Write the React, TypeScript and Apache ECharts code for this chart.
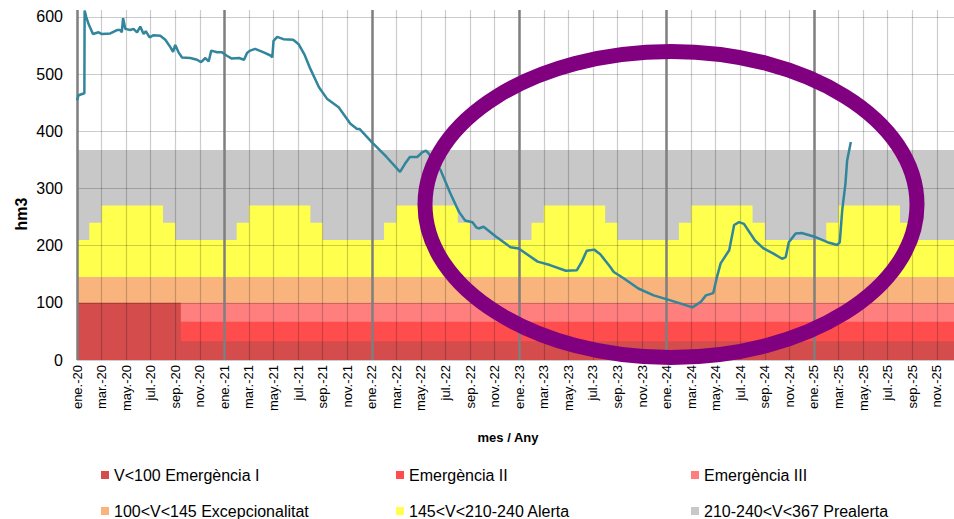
import { useEffect, useRef } from "react";
import * as echarts from "echarts";

// Month names used in the x-axis tick labels (ene.-20, mar.-20, ...)
const monthNames = ["ene.", "feb.", "mar.", "abr.", "may.", "jun.", "jul.", "ago.", "sep.", "oct.", "nov.", "dic."];
const firstYear = 20;

// Reservoir volume (hm3); x = months elapsed since 1 Jan 2020
const levelMonths = [
  0.0, 0.13, 0.54, 0.6, 0.62, 0.75, 0.95, 1.3, 1.76, 2.03, 2.71, 3.26, 3.53, 3.65, 3.75, 3.93, 4.34, 4.6, 4.89, 5.15,
  5.42, 5.6, 5.91, 6.24, 6.78, 7.19, 7.6, 7.82, 8.0, 8.27, 8.55, 9.23, 9.77, 10.1, 10.45, 10.72, 10.93, 11.4, 11.8, 12.2,
  12.6, 13.2, 13.6, 13.84, 14.1, 14.5, 15.2, 15.8, 15.9, 16.0, 16.3, 16.8, 17.6, 18.05, 18.5, 19.0, 19.7, 20.35, 21.3, 22.26,
  22.8, 23.0, 24.0, 25.2, 26.3, 26.7, 27.1, 27.7, 28.1, 28.4, 28.6, 29.6, 30.4, 31.1, 31.6, 32.2, 32.5, 32.7, 33.1, 34.1,
  35.3, 35.96, 37.5, 38.5, 39.8, 40.7, 41.1, 41.5, 42.1, 42.6, 43.4, 43.7, 44.5, 45.7, 46.95, 48.05, 49.1, 50.1, 50.8, 51.2,
  51.8, 52.1, 52.4, 53.1, 53.5, 53.9, 54.3, 55.2, 55.9, 56.7, 57.4, 57.7, 57.95, 58.5, 59.0, 59.98, 61.1, 61.9, 62.1, 62.3,
  62.56, 62.7, 63.0,
];
const levelValues = [
  454, 463, 466, 466, 611, 600, 587, 570, 573, 570, 571, 577, 577, 573, 598, 579, 577, 579, 573, 583,
  570, 575, 564, 568, 567, 560, 547, 539, 551, 538, 529, 528, 525, 521, 528, 522, 541, 538, 538, 532,
  527, 528, 525, 537, 541, 544, 538, 532, 529, 558, 565, 561, 560, 552, 535, 509, 477, 457, 442, 413,
  404, 404, 381, 355, 329, 343, 355, 355, 363, 366, 362, 332, 291, 259, 244, 241, 232, 230, 233, 216,
  197, 195, 172, 166, 156, 157, 172, 191, 193, 185, 163, 154, 143, 125, 113, 106, 99, 92, 102, 113,
  117, 145, 169, 192, 236, 241, 238, 209, 195, 186, 177, 180, 206, 221, 222, 216, 206, 201, 206, 262,
  308, 349, 381,
];

// Threshold levels (hm3)
const alertaTopByMonth = [210, 240, 270, 270, 270, 270, 270, 240, 210, 210, 210, 210]; // ene..dic
const prealertaTop = 367;
const excepcionalitatTop = 145;
const emergenciaIIITop = 100;
const emergenciaIITop = 67;
const emergenciaIBefore = 100;
const emergenciaIAfter = 33;
const emergenciaChangeMonth = 8.45;
const totalMonths = 72;

const legendNames = [
  "V<100 Emergència I",
  "Emergència II",
  "Emergència III",
  "100<V<145 Excepcionalitat",
  "145<V<210-240 Alerta",
  "210-240<V<367 Prealerta",
];
const bandColors = ["#d44c4c", "#ff4d4d", "#ff7f7f", "#f8b47c", "#ffff4d", "#c8c8c8"];

const FONT = "'Liberation Sans', Arial, sans-serif";

export default function App() {
  const ref = useRef<HTMLDivElement>(null);
  useEffect(() => {
    if (!ref.current) return;
    const chart = echarts.init(ref.current, null, { renderer: "svg" });

    const alertaData: number[][] = [];
    for (let i = 0; i < totalMonths; i++) alertaData.push([i, alertaTopByMonth[i % 12]]);
    alertaData.push([totalMonths, alertaTopByMonth[11]]);

    const flat = (v: number) => [[0, v], [totalMonths, v]];

    const band = (name: string, color: string, data: number[][]) => ({
      type: "line",
      name,
      data,
      step: "end",
      showSymbol: false,
      silent: true,
      z: 1,
      itemStyle: { color },
      lineStyle: { width: 0, color },
      areaStyle: { color, opacity: 1 },
      emphasis: { disabled: true },
    });

    const legendPos = [
      [101, 467], [396, 467], [691, 467],
      [101, 503], [396, 503], [691, 503],
    ];

    const xMax = 71.4;

    chart.setOption({
      animation: false,
      grid: { left: 77, right: 0, top: 10, height: 350 },
      xAxis: [
        {
          type: "value",
          min: 0,
          max: xMax,
          interval: 2,
          z: 3,
          axisLine: { show: false },
          axisTick: { show: false },
          axisLabel: {
            rotate: 90,
            margin: 5,
            color: "#000",
            fontSize: 13,
            fontFamily: FONT,
            showMaxLabel: false,
            formatter: (v: number) => {
              if (Math.abs(v - Math.round(v)) > 1e-6 || Math.round(v) % 2 !== 0) return "";
              const m = Math.round(v);
              return monthNames[m % 12] + "-" + (firstYear + Math.floor(m / 12));
            },
          },
          splitLine: { show: true, showMaxLine: false, lineStyle: { color: "rgba(0,0,0,0.2)", width: 1.2 } },
        },
        {
          type: "value",
          min: 0,
          max: xMax,
          interval: 12,
          z: 4,
          axisLine: { show: false },
          axisTick: { show: false },
          axisLabel: { show: false },
          splitLine: { show: true, showMaxLine: false, lineStyle: { color: "#7f7f7f", width: 2.5 } },
        },
      ],
      yAxis: {
        type: "value",
        min: 0,
        max: 612,
        interval: 100,
        z: 3,
        axisLine: { show: false },
        axisTick: { show: false },
        axisLabel: {
          color: "#000",
          fontSize: 16,
          fontFamily: FONT,
          margin: 14,
          formatter: (v: number) => (v % 100 === 0 ? String(v) : ""),
        },
        splitLine: { show: true, showMaxLine: false, lineStyle: { color: "rgba(0,0,0,0.2)", width: 1.2 } },
      },
      legend: legendNames.map((name, i) => ({
        left: legendPos[i][0],
        top: legendPos[i][1],
        selectedMode: false,
        icon: "rect",
        itemWidth: 8,
        itemHeight: 8,
        padding: 0,
        textStyle: { color: "#000", fontSize: 16, fontFamily: FONT },
        data: [{ name, itemStyle: { color: bandColors[i] } }],
      })),
      series: [
        band(legendNames[5], bandColors[5], flat(prealertaTop)),
        band(legendNames[4], bandColors[4], alertaData),
        band(legendNames[3], bandColors[3], flat(excepcionalitatTop)),
        band(legendNames[2], bandColors[2], flat(emergenciaIIITop)),
        band(legendNames[1], bandColors[1], flat(emergenciaIITop)),
        band(legendNames[0], bandColors[0], [
          [0, emergenciaIBefore],
          [emergenciaChangeMonth, emergenciaIAfter],
          [totalMonths, emergenciaIAfter],
        ]),
        {
          type: "line",
          name: "Volum",
          data: levelMonths.map((m, i) => [m, levelValues[i]]),
          showSymbol: false,
          silent: true,
          z: 5,
          lineStyle: { color: "#31859c", width: 2.5 },
          itemStyle: { color: "#31859c" },
        },
      ],
      graphic: [
        {
          type: "text",
          x: 21,
          y: 214,
          rotation: Math.PI / 2,
          style: {
            text: "hm3",
            fill: "#000",
            font: `bold 16px ${FONT}`,
            align: "center",
            verticalAlign: "middle",
          },
        },
        {
          type: "text",
          x: 508,
          y: 437,
          style: {
            text: "mes / Any",
            fill: "#000",
            font: `bold 13px ${FONT}`,
            align: "center",
            verticalAlign: "middle",
          },
        },
        {
          type: "ellipse",
          z: 100,
          shape: { cx: 671, cy: 204.5, rx: 246, ry: 153 },
          style: { fill: "none", stroke: "#800080", lineWidth: 15 },
        },
      ],
    });
    return () => chart.dispose();
  }, []);
  return (
    <div
      ref={ref}
      style={{ position: "fixed", left: 0, top: 0, width: 954, height: 519, background: "#fff" }}
    />
  );
}
